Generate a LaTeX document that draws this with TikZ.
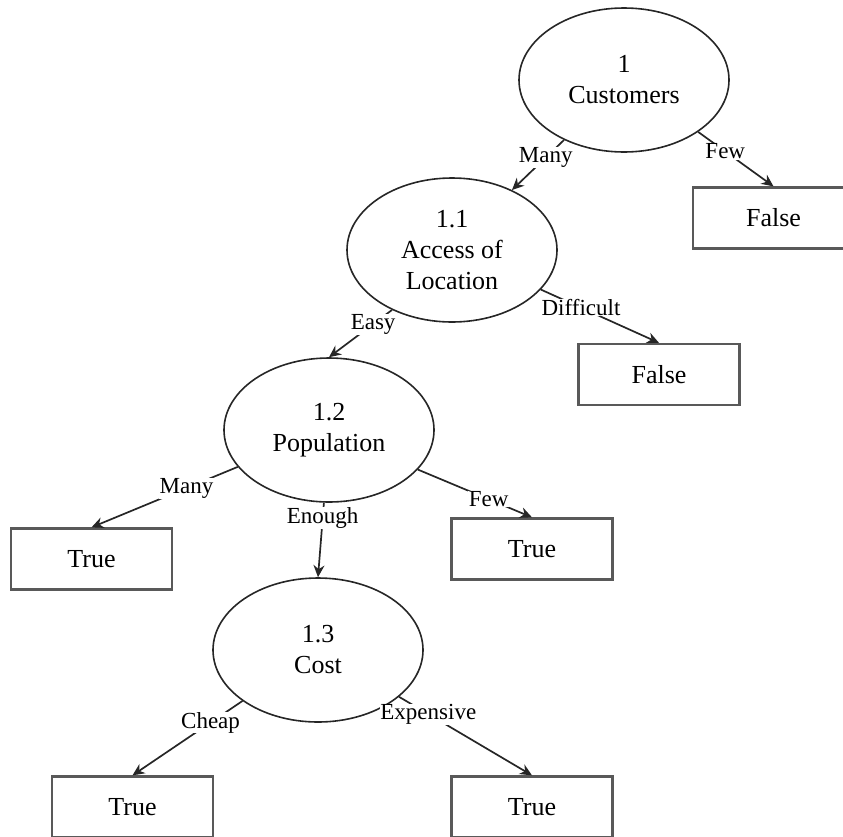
\documentclass[tikz,border=0pt]{standalone}
\usepackage{fontspec}
\setmainfont{Liberation Serif}
\usetikzlibrary{shapes.geometric,arrows.meta}
\begin{document}
\begin{tikzpicture}[x=1pt,y=-1pt,
  dec/.style={ellipse,draw=black!85,line width=1.6pt,minimum width=210pt,minimum height=144pt,inner sep=0pt,align=center,font=\fontsize{26}{31}\selectfont},
  leaf/.style={rectangle,draw=black!65,line width=2.3pt,minimum width=161pt,minimum height=61pt,inner sep=0pt,font=\fontsize{26}{31}\selectfont},
  conn/.style={draw=black!85,line width=1.7pt,-{Stealth[length=12pt,width=11pt]}},
  lab/.style={fill=white,inner sep=0.5pt,font=\fontsize{23}{26}\selectfont}]
\useasboundingbox (0,0) rectangle (843,836);
% decision nodes
\node[dec] (n1)  at (624,80)  {1\\Customers};
\node[dec] (n11) at (452,250) {1.1\\Access of\\Location};
\node[dec] (n12) at (329,430) {1.2\\Population};
\node[dec] (n13) at (318,650) {1.3\\Cost};
% leaves
\node[leaf] (f1)  at (773.5,218) {False};
\node[leaf] (f2)  at (659,374.5) {False};
\node[leaf] (t1)  at (91.5,559) {True};
\node[leaf] (t2)  at (532,549) {True};
\node[leaf] (t3)  at (132.5,807) {True};
\node[leaf] (t4)  at (532,807) {True};
% connectors
\draw[conn] (n1.-135) -- node[lab,pos=0.35] {Many} (n11.45);
\draw[conn] (n1.-35) -- node[lab,pos=0.36] {Few} (f1.north);
\draw[conn] (n11.-135) -- node[lab,pos=0.3] {Easy} (n12.north);
\draw[conn] (n11.-24) -- node[lab,pos=0.34] {Difficult} (f2.north);
\draw[conn] (n12.-158) -- node[lab,pos=0.35] {Many} (t1.north);
\draw[conn] (n12.-94) -- node[lab,pos=0.21] {Enough} (n13.north);
\draw[conn] (n12.-24) -- node[lab,pos=0.62] {Few} (t2.north);
\draw[conn] (n13.-146) -- node[lab,pos=0.29] {Cheap} (t3.north);
\draw[conn] (n13.-30) -- node[lab,pos=0.22] {Expensive} (t4.north);
\end{tikzpicture}
\end{document}
